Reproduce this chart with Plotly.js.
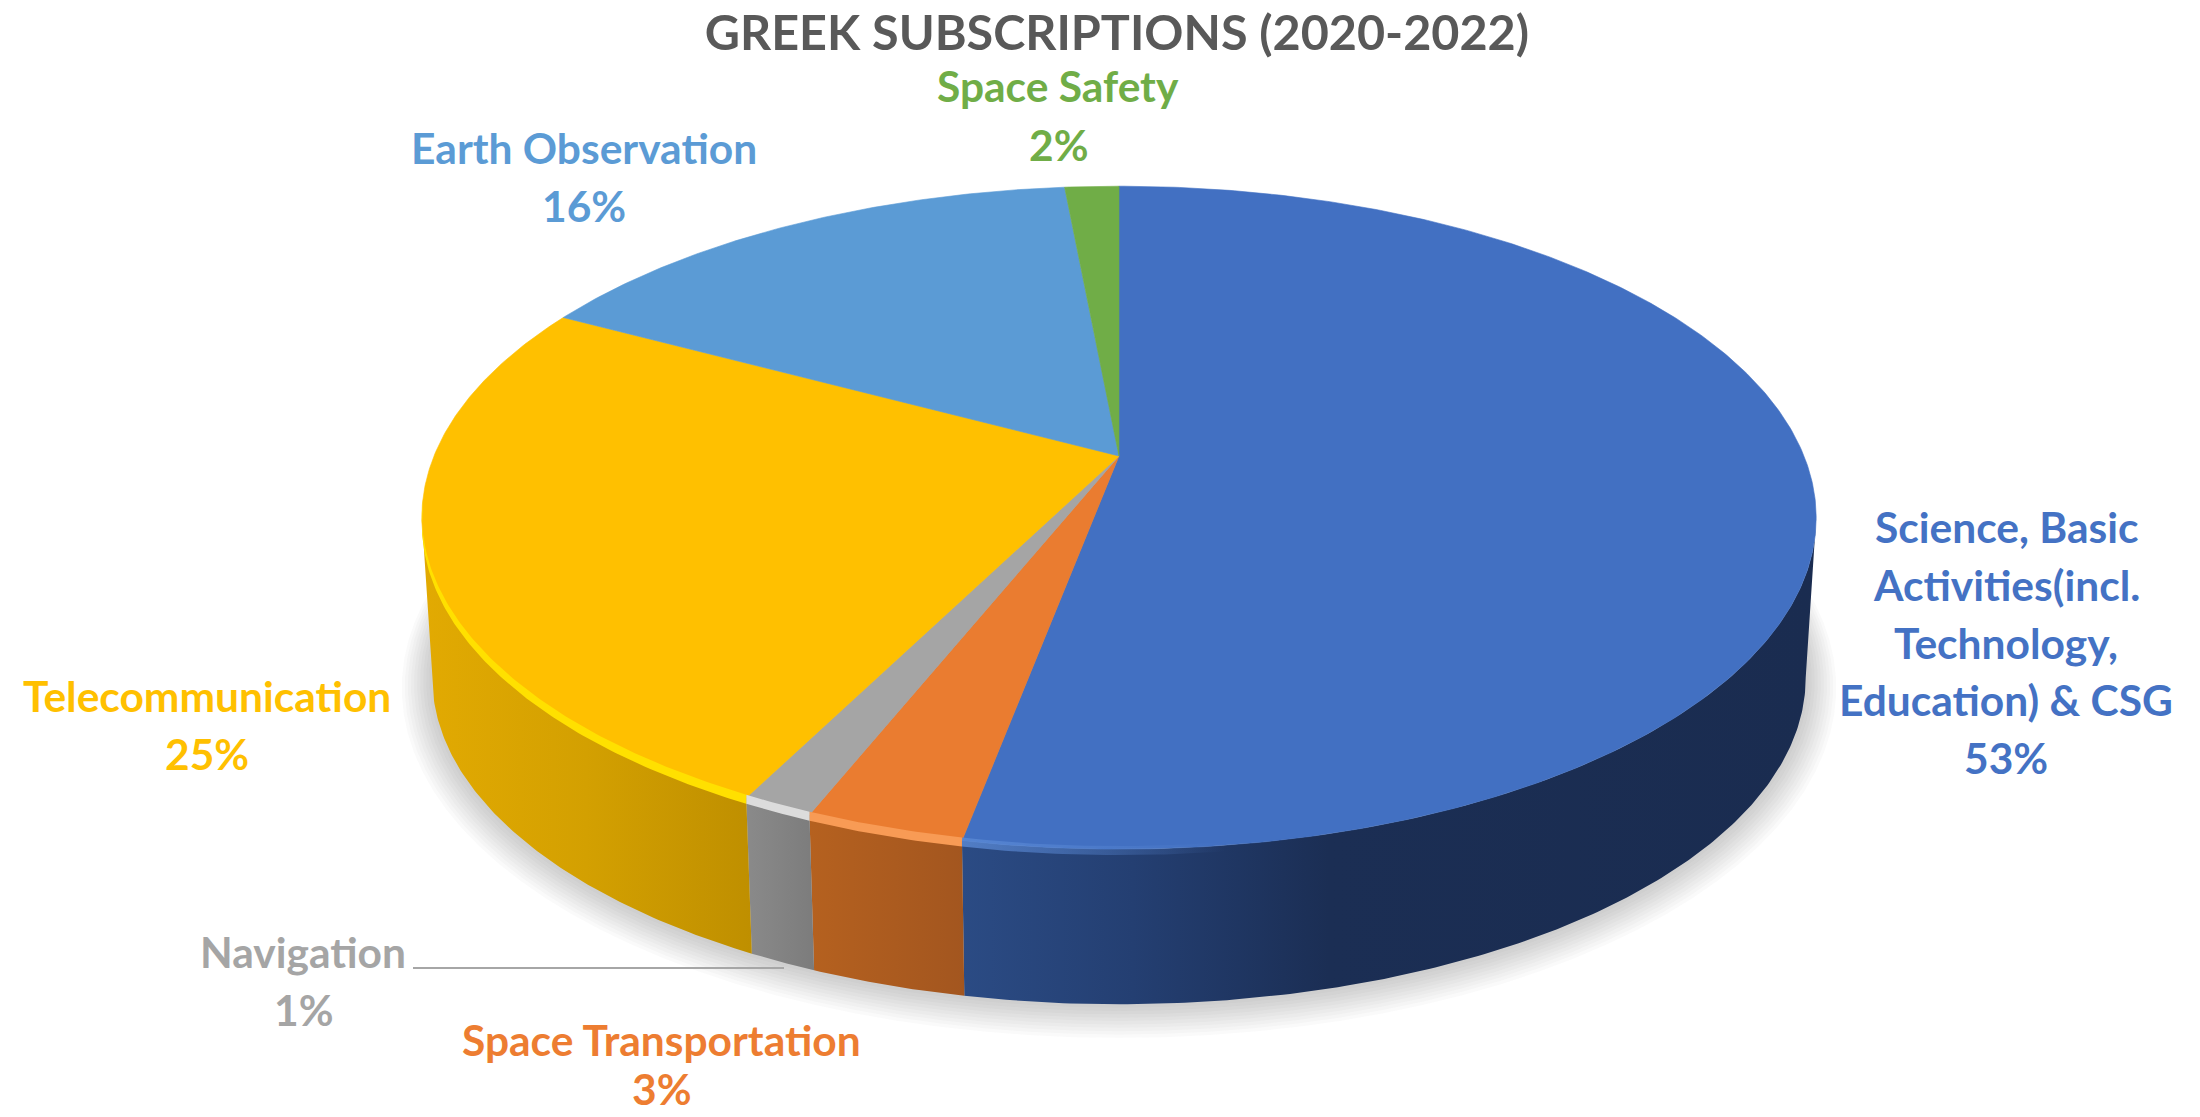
<!DOCTYPE html>
<html><head><meta charset="utf-8">
<script src="https://cdn.plot.ly/plotly-3.0.1.min.js"></script>
<style>html,body{margin:0;padding:0;background:#fff}#c{width:2200px;height:1117px}</style>
</head><body><div id="c"></div>
<script>
// ---- data (clockwise from 12 o'clock) ----
const chartTitle = 'GREEK SUBSCRIPTIONS (2020-2022)';
const categories = ['Science, Basic Activities(incl. Technology, Education) & CSG','Space Transportation','Navigation','Telecommunication','Earth Observation','Space Safety'];
const values = [53, 3.1, 1.4, 25.3, 15.7, 1.5];
const labelLines = [['Science, Basic','Activities(incl.','Technology,','Education) & CSG'],['Space Transportation'],['Navigation'],['Telecommunication'],['Earth Observation'],['Space Safety']];

// ---- style ----
const topColors = ['#4270c2','#ea7c30','#a5a5a5','#ffc000','#5b9bd5','#70ad47'];
const textColors = ['#4472c4','#ed7d31','#a5a5a5','#ffc000','#5b9bd5','#70ad47'];
const sideStops = [
  [[0,'#2b4b84'],[0.2,'#243f72'],[0.43,'#1b2e54'],[1,'#1a2c50']],
  [[0,'#b5611f'],[1,'#a3561f']],
  [[0,'#8a8a8a'],[1,'#7c7c7c']],
  [[0,'#e2aa02'],[0.5,'#d3a001'],[1,'#bf8f00']]
];
const rimStops = [
  [[0,'rgba(91,138,214,0.8)'],[0.35,'rgba(91,138,214,0)'],[1,'rgba(91,138,214,0)']],
  [[0,'rgba(248,155,85,1)'],[1,'rgba(248,155,85,1)']],
  [[0,'rgba(220,220,220,1)'],[1,'rgba(220,220,220,1)']],
  [[0,'rgba(255,224,0,1)'],[1,'rgba(255,224,0,1)']]
];
const font = 'Lato, Carlito, Calibri, sans-serif';

// ---- projection of the tilted disc (page pixels on the hidden axes) ----
const G = {cx:1119, cyTop:456, cyBot:617, B:685, A:320, k:0.186, bot:0.985};
function pt(deg, level){
  const t = deg*Math.PI/180, u = Math.sin(t), v = -Math.cos(t), d = 1 - G.k*v;
  if(level==='top') return [G.cx + G.B*u/d, G.cyTop + G.A*v/d];
  return [G.cx + G.B*G.bot*u/d, G.cyBot + G.A*G.bot*v/d];
}
function arc(a0, a1, level, dy){
  const n = Math.max(2, Math.ceil(Math.abs(a1-a0))*2), out=[];
  for(let i=0;i<=n;i++){ const p = pt(a0+(a1-a0)*i/n, level); out.push([p[0], p[1]+(dy||0)]); }
  return out;
}
function poly(pts, extra){
  return Object.assign({x:pts.map(p=>p[0]), y:pts.map(p=>p[1]), type:'scatter', mode:'lines',
    line:{width:0}, fill:'toself', hoverinfo:'skip', showlegend:false}, extra);
}
function gradient(stops, pts){
  const xs = pts.map(p=>p[0]);
  return {type:'horizontal', colorscale:stops, start:Math.min(...xs), stop:Math.max(...xs)};
}

const total = values.reduce((a,b)=>a+b,0);
const edges = [0];
values.forEach(v=>edges.push(edges[edges.length-1]+v/total*360));

const traces = [];
// soft shadow below the disc
for(let g=30;g>=2;g-=3){
  const pts=[];
  for(let a=0;a<=360;a+=3){
    const t=a*Math.PI/180,u=Math.sin(t),v=-Math.cos(t),d=1-G.k*v;
    pts.push([G.cx+(G.B*G.bot+g)*u/d, G.cyBot+g*0.2+(G.A*G.bot+g*0.75)*v/d]);
  }
  traces.push(poly(pts,{fillcolor:'rgba(70,70,70,0.028)'}));
}
// visible side wall, between the two silhouette tangents
const sideFrom = Math.acos(-G.k)*180/Math.PI, sideTo = 360-sideFrom;
values.forEach((v,i)=>{
  const a0=Math.max(edges[i],sideFrom), a1=Math.min(edges[i+1],sideTo);
  if(a1<=a0) return;
  const pts = arc(a0,a1,'top').concat(arc(a1,a0,'bot'));
  pts.push(pts[0]);
  traces.push(poly(pts,{fillgradient:gradient(sideStops[i],pts)}));
});
// top face
values.forEach((v,i)=>{
  const apex=[G.cx,G.cyTop];
  const all=[apex].concat(arc(edges[i],edges[i+1],'top'));
  all.push(apex);
  traces.push(poly(all,{fillcolor:topColors[i],line:{width:0.6,color:topColors[i]}}));
});
// bevelled bright rim on the front edge
values.forEach((v,i)=>{
  if(!rimStops[i]) return;
  const a0=Math.max(edges[i],i===0?130:0), a1=Math.min(edges[i+1],262);
  const pts=arc(a0,a1,'top',-3).concat(arc(a1,a0,'top',6));
  pts.push(pts[0]);
  traces.push(poly(pts,{fillgradient:gradient(rimStops[i],pts)}));
});

// labels
const labelPos = [
  {x:2006, y:[526,584,642,699,757]},
  {x:661,  y:[1039,1088]},
  {x:303,  y:[951,1009]},
  {x:207,  y:[695,753]},
  {x:584,  y:[147,205]},
  {x:1058, y:[85,144]}
];
const annotations=[];
labelLines.forEach((lines,i)=>{
  lines.concat([Math.round(values[i]/total*100)+'%']).forEach((txt,j)=>{
    annotations.push({xref:'x',yref:'y',x:labelPos[i].x,y:labelPos[i].y[j],text:'<b>'+txt+'</b>',
      showarrow:false,xanchor:'center',yanchor:'middle',font:{family:font,size:42.5,color:textColors[i]}});
  });
});

const layout = {
  width:2200,height:1117,margin:{l:0,r:0,t:0,b:0},paper_bgcolor:'#fff',plot_bgcolor:'#fff',showlegend:false,
  title:{text:'<b>'+chartTitle+'</b>',x:0.5077,y:0.97,xanchor:'center',yanchor:'middle',font:{family:font,size:48.5,color:'#595959'}},
  xaxis:{range:[0,2200],visible:false,fixedrange:true},
  yaxis:{range:[1117,0],visible:false,fixedrange:true},
  shapes:[{type:'line',xref:'x',yref:'y',x0:413,y0:968,x1:784,y1:968,line:{color:'#a6a6a6',width:2}}],
  annotations
};
Plotly.newPlot('c',traces,layout,{displayModeBar:false,staticPlot:true});
</script></body></html>
